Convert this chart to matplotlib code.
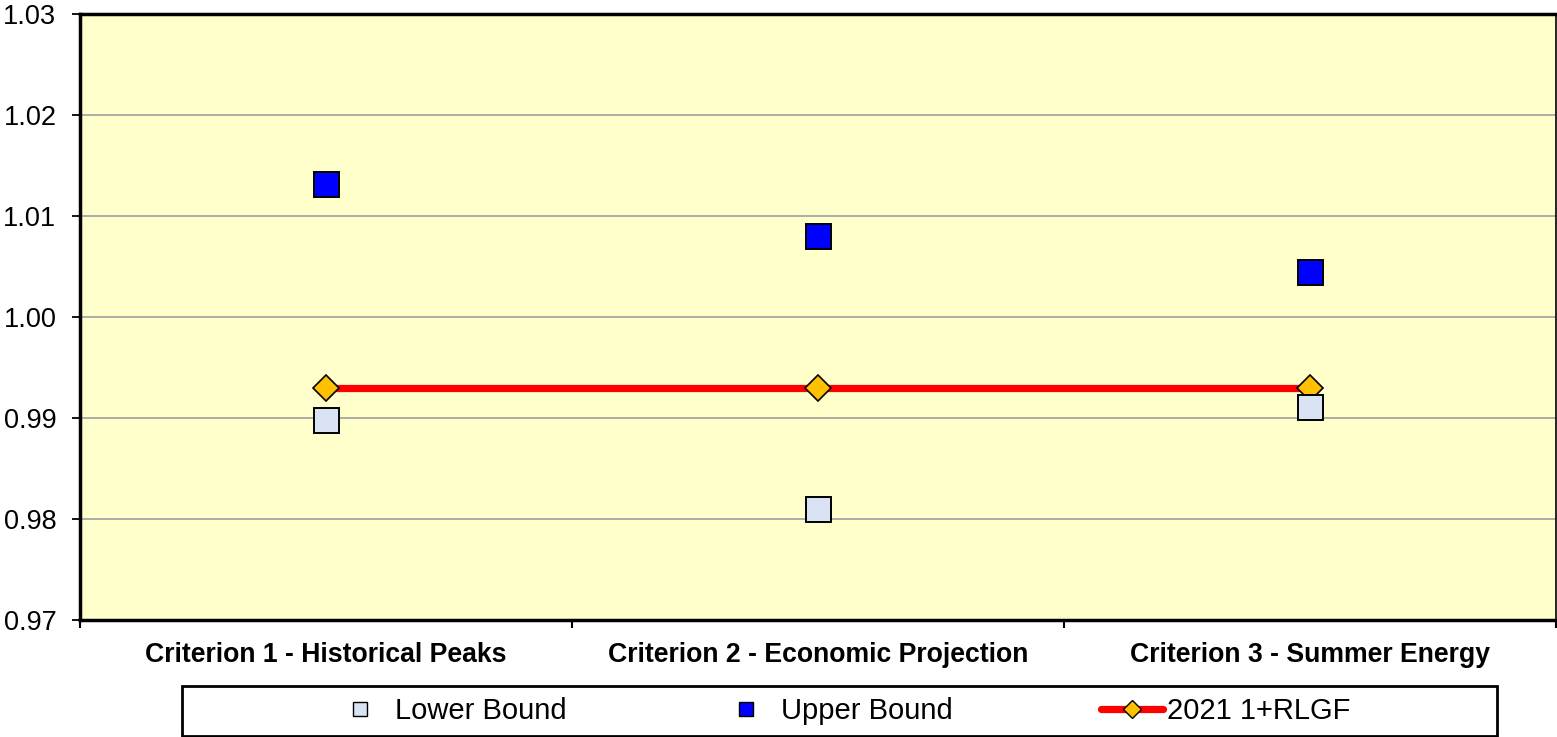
import matplotlib
matplotlib.use("Agg")
import matplotlib.pyplot as plt
from matplotlib.lines import Line2D
from matplotlib.patches import Rectangle

plt.rcParams['font.family'] = ['Liberation Sans', 'DejaVu Sans']

categories = ["Criterion 1 - Historical Peaks",
              "Criterion 2 - Economic Projection",
              "Criterion 3 - Summer Energy"]
lower_bound = [0.9898, 0.9810, 0.9911]
upper_bound = [1.0132, 1.0080, 1.0045]
rlgf_2021 = [0.9930, 0.9930, 0.9930]
y_ticks = [0.97, 0.98, 0.99, 1.00, 1.01, 1.02, 1.03]

fig = plt.figure(figsize=(15.57, 7.37), dpi=100)
ax = fig.add_axes([80 / 1557, 1 - 620 / 737, 1476 / 1557, 606 / 737])
ax.set_facecolor("#FFFFCC")

x = list(range(len(categories)))

ax.plot(x, rlgf_2021, color="#FF0000", linewidth=5.2, solid_capstyle="butt",
        marker="D", markersize=13.5, markerfacecolor="#FFC000",
        markeredgecolor="black", markeredgewidth=1.2, zorder=3)
ax.plot(x, lower_bound, linestyle="none", marker="s", markersize=18,
        markerfacecolor="#DAE3F3", markeredgecolor="black",
        markeredgewidth=1.4, zorder=4)
ax.plot(x, upper_bound, linestyle="none", marker="s", markersize=18,
        markerfacecolor="#0000FF", markeredgecolor="black",
        markeredgewidth=1.4, zorder=4)

ax.set_xlim(-0.5, len(categories) - 0.5)
ax.set_ylim(y_ticks[0], y_ticks[-1])
ax.set_yticks(y_ticks)
ax.set_yticklabels([f"{v:.2f}" for v in y_ticks])
ax.yaxis.grid(True, color="#A6A6A6", linewidth=1.3)
ax.set_axisbelow(True)

ax.set_xticks(x)
ax.set_xticklabels(categories, fontweight="bold", fontsize=19.2)
ax.set_xticks([i - 0.5 for i in range(len(categories) + 1)], minor=True)
ax.tick_params(axis="x", which="major", length=0, pad=16)
ax.tick_params(axis="x", which="minor", length=6, width=1.5, direction="out")
ax.tick_params(axis="y", length=6, width=1.3, direction="out", pad=11,
               labelsize=19.5)

for side in ["left", "bottom", "top"]:
    ax.spines[side].set_linewidth(2.5)
    ax.spines[side].set_color("black")
ax.spines["right"].set_linewidth(1.2)
ax.spines["right"].set_color("black")

# legend frame spanning below the plot
fig.patches.append(Rectangle((182 / 1557, 1 / 737), 1315 / 1557, 50 / 737,
                             transform=fig.transFigure, facecolor="white",
                             edgecolor="black", linewidth=2))

handles = [
    Line2D([], [], linestyle="none", marker="s", markersize=10,
           markerfacecolor="#DAE3F3", markeredgecolor="black",
           markeredgewidth=1.0),
    Line2D([], [], linestyle="none", marker="s", markersize=10,
           markerfacecolor="#0000FF", markeredgecolor="black",
           markeredgewidth=1.0),
    Line2D([], [], color="#FF0000", linewidth=5.2, marker="D", markersize=9,
           markerfacecolor="#FFC000", markeredgecolor="black",
           markeredgewidth=1.0, solid_capstyle="round"),
]
labels = ["Lower Bound", "Upper Bound", "2021 1+RLGF"]
fs = 21
fig.legend(handles, labels, loc="center",
           bbox_to_anchor=(839.5 / 1557, 1 - 711 / 737), ncol=3,
           frameon=False, fontsize=fs, handlelength=62 / (fs * 100 / 72),
           handletextpad=0.15, columnspacing=148 / (fs * 100 / 72))

fig.savefig("out.png", dpi=100)
